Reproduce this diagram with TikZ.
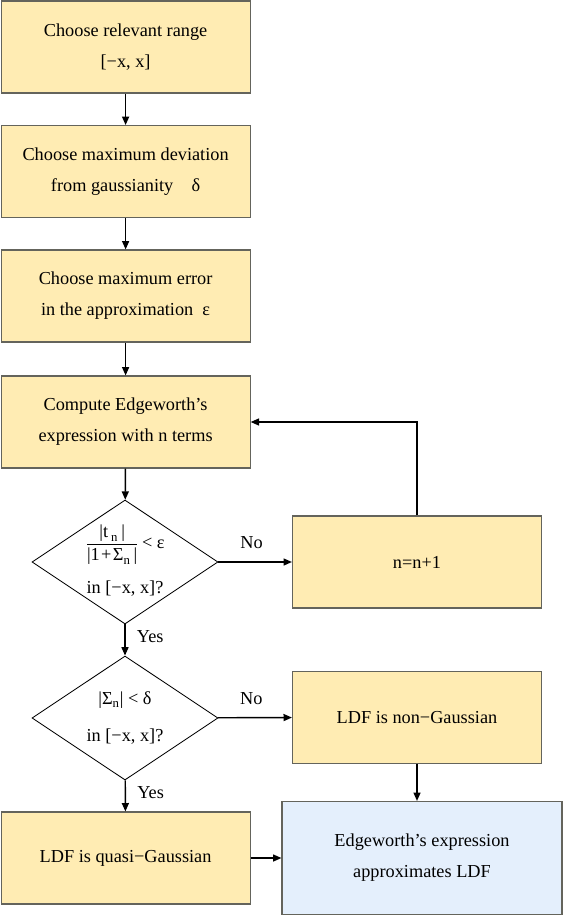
\documentclass[tikz,border=0pt]{standalone}
\usepackage{amsmath}
\usepackage{fontspec}
\setmainfont{Liberation Serif}
\usepackage{xcolor}
\usetikzlibrary{arrows.meta,positioning,shapes.geometric,calc}

\definecolor{stepyellow}{RGB}{255,236,179}
\definecolor{endblue}{RGB}{228,239,252}
\definecolor{edgegray}{RGB}{100,100,92}

\begin{document}
\begin{tikzpicture}[
  every node/.style={font=\fontsize{13}{22}\selectfont},
  stepbox/.style={draw=edgegray, line width=0.8pt, fill=stepyellow,
                  minimum width=6.225cm, minimum height=2.3cm, align=center},
  endbox/.style={draw=edgegray, line width=0.8pt, fill=endblue,
                 minimum width=7.0cm, minimum height=2.825cm, align=center},
  decision/.style={draw=black, line width=0.6pt, diamond, fill=white,
                   minimum width=4.65cm, minimum height=3.1cm, inner sep=0pt},
  flow/.style={line width=1pt, -{Triangle[length=6pt,width=5pt]}},
  lab/.style={inner sep=2pt}
]
\useasboundingbox (0,0) rectangle (14.075,-22.925);

\node[stepbox] (range) at (3.14,-1.175) {Choose relevant range\\{[}−x, x{]}};
\node[stepbox] (dev)   at (3.14,-4.29)  {Choose maximum deviation\\from gaussianity\quad δ};
\node[stepbox] (err)   at (3.14,-7.4)   {Choose maximum error\\in the approximation\enspace ε};
\node[stepbox] (comp)  at (3.14,-10.55) {Compute Edgeworth’s\\expression with n terms};

\node[decision] (test1) at (3.125,-14.05) {};
\node[align=center] (test1t) at ([yshift=1pt]test1)
  {$\dfrac{\text{|t\,}_{\text{n}}\text{\,|}}{\text{|1\kern1pt+\kern1ptΣ}_{\text{n}}\text{\,|}}$\,\text{< ε}\\[10pt] in {[}−x, x{]}?};
\node[stepbox] (incr)  at (10.425,-14.05) {n=n+1};

\node[decision] (test2) at (3.125,-17.95) {};
\node[align=center] (test2t) at (test2) {|Σ$_{\text{n}}$| < δ\\[4pt]in {[}−x, x{]}?};
\node[stepbox] (nong)  at (10.425,-17.93) {LDF is non−Gaussian};

\node[stepbox] (quasi) at (3.14,-21.45)  {LDF is quasi−Gaussian};
\node[endbox]  (result) at (10.55,-21.45) {Edgeworth’s expression\\approximates LDF};

% main line
\draw[flow] (range) -- (dev);
\draw[flow] (dev) -- (err);
\draw[flow] (err) -- (comp);
\draw[flow] (comp) -- (test1);
\draw[flow] (test1) -- node[lab, right=6pt, pos=0.4]{Yes} (test2);
\draw[flow] (test2) -- node[lab, right=6pt, pos=0.4]{Yes} (quasi);

% branches
\draw[flow] (test1) -- node[lab, above=7pt, pos=0.45]{No} (incr);
\draw[flow] (incr.north) |- (comp.east);
\draw[flow] (test2) -- node[lab, above=7pt, pos=0.45]{No} (nong);
\draw[flow] (nong.south) -- (nong.south |- result.north);
\draw[flow] (quasi) -- (result);
\end{tikzpicture}
\end{document}
